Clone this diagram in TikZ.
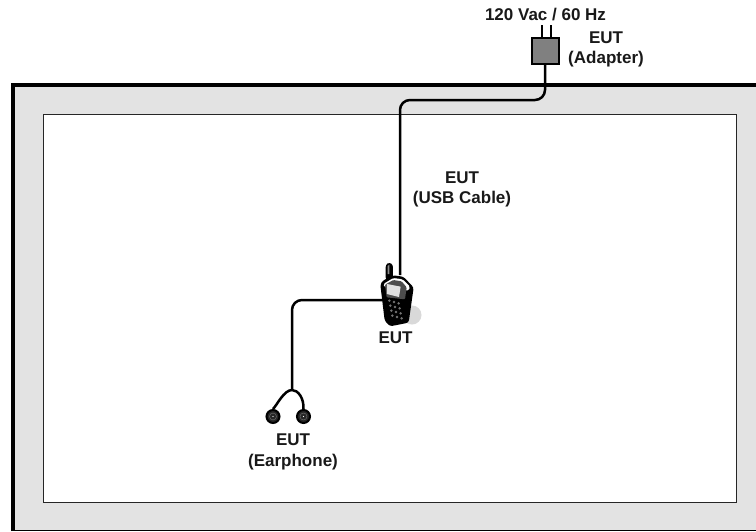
\documentclass[tikz,border=0pt]{standalone}
\usepackage{fontspec}
\setmainfont{Liberation Sans}
\tikzset{
  lbl/.style={font=\fontsize{17}{20.5}\selectfont\bfseries,align=center,inner sep=0pt,text=black!90},
  cable/.style={draw=black,line width=2.5pt,rounded corners=10pt},
  bud/.style={circle,draw=black,fill=black!85,line width=2pt,minimum size=13pt,inner sep=0pt}
}
\begin{document}
\begin{tikzpicture}[x=1pt,y=-1pt]
\useasboundingbox (0,0) rectangle (756,531);
% room
\fill[black!11] (13,84) rectangle (756,530);
\draw[black,line width=1pt] (13,530) -- (756,530);
\draw[black,line width=4pt] (13,531) -- (13,85) -- (756,85);
\node (room) [draw=black!85,fill=white,line width=1.2pt,minimum width=693pt,minimum height=388pt,inner sep=0pt,anchor=north west] at (43,114) {};
% adapter
\node (adapter) [draw=black,fill=black!50,line width=2pt,minimum width=27pt,minimum height=26pt,inner sep=0pt] at (545.8,50.5) {};
\coordinate (prongA) at (541.7,25);
\coordinate (prongB) at (550.7,25);
\draw[black,line width=2pt] (prongA) -- (prongA |- adapter.north);
\draw[black,line width=2pt] (prongB) -- (prongB |- adapter.north);
% phone
\coordinate (phoneTop) at (400,275);
\coordinate (phoneLeft) at (385,300);
\coordinate (split) at (292,390);
\node (budL) [bud] at (273,416.5) {};
\node (budR) [bud] at (303.5,416.5) {};
\fill[black!15] (412,315) circle (9.5pt);
% cables
\draw[cable] (adapter.south -| 545,0) -- (545,100) -- (400,100) -- (phoneTop);
\draw[cable] (phoneLeft) -- (292,300) -- (split);
\draw[black,line width=2.5pt] (budL.north) .. controls (277,405) and (284,390) .. (split) .. controls (298,390) and (304,398) .. (budR.north);
% bud details
\fill[white] (budL) circle (0.7pt);
\fill[white] (budR) circle (0.7pt);
\draw[black!55,line width=0.4pt] (budL) circle (3.5pt);
\draw[black!55,line width=0.4pt] (budR) circle (3.5pt);
% phone drawing (coordinates in thirds of a pixel)
\begin{scope}[shift={(350,250)},x=0.3333pt,y=-0.3333pt]
\fill[black,rounded corners=2.5pt] (107,90) -- (107,44) -- (118,37) -- (129,44) -- (129,85) -- cycle;
\fill[black!45] (113,72) -- (113,48) -- (118,44) -- (118,72) -- cycle;
\fill[black,rounded corners=2.5pt] (91,104) -- (98,92) -- (130,76) -- (160,80) -- (191,112) -- (176,218) -- (120,229) -- (104,212) -- cycle;
\fill[white,rounded corners=1.5pt] (100,102) -- (130,84) -- (158,88) -- (180,110) -- (176,122) -- (104,112) -- cycle;
\fill[black!70,rounded corners=1pt] (105,104) -- (130,90) -- (155,94) -- (170,112) -- (165,148) -- (110,142) -- cycle;
\fill[black!12] (111,102) -- (152,110) -- (147,141) -- (111,132) -- cycle;
\foreach \p in {(118,152),(121,167),(124,182),(127,197),(132,156),(135,171),(138,186),(141,201),(146,160),(149,175),(152,190),(155,205)}{\fill[black!55] \p circle (1.4pt);}
\end{scope}
% labels
\node (lblMains) [lbl] at (545.5,15) {120 Vac / 60 Hz};
\node (lblAdapter) [lbl] at (606,49.5) {EUT\\(Adapter)};
\node (lblUsb) [lbl] at (462,189.5) {EUT\\(USB Cable)};
\node (lblPhone) [lbl] at (395.5,338) {EUT};
\node (lblEar) [lbl] at (293,452) {EUT\\(Earphone)};
\end{tikzpicture}
\end{document}
